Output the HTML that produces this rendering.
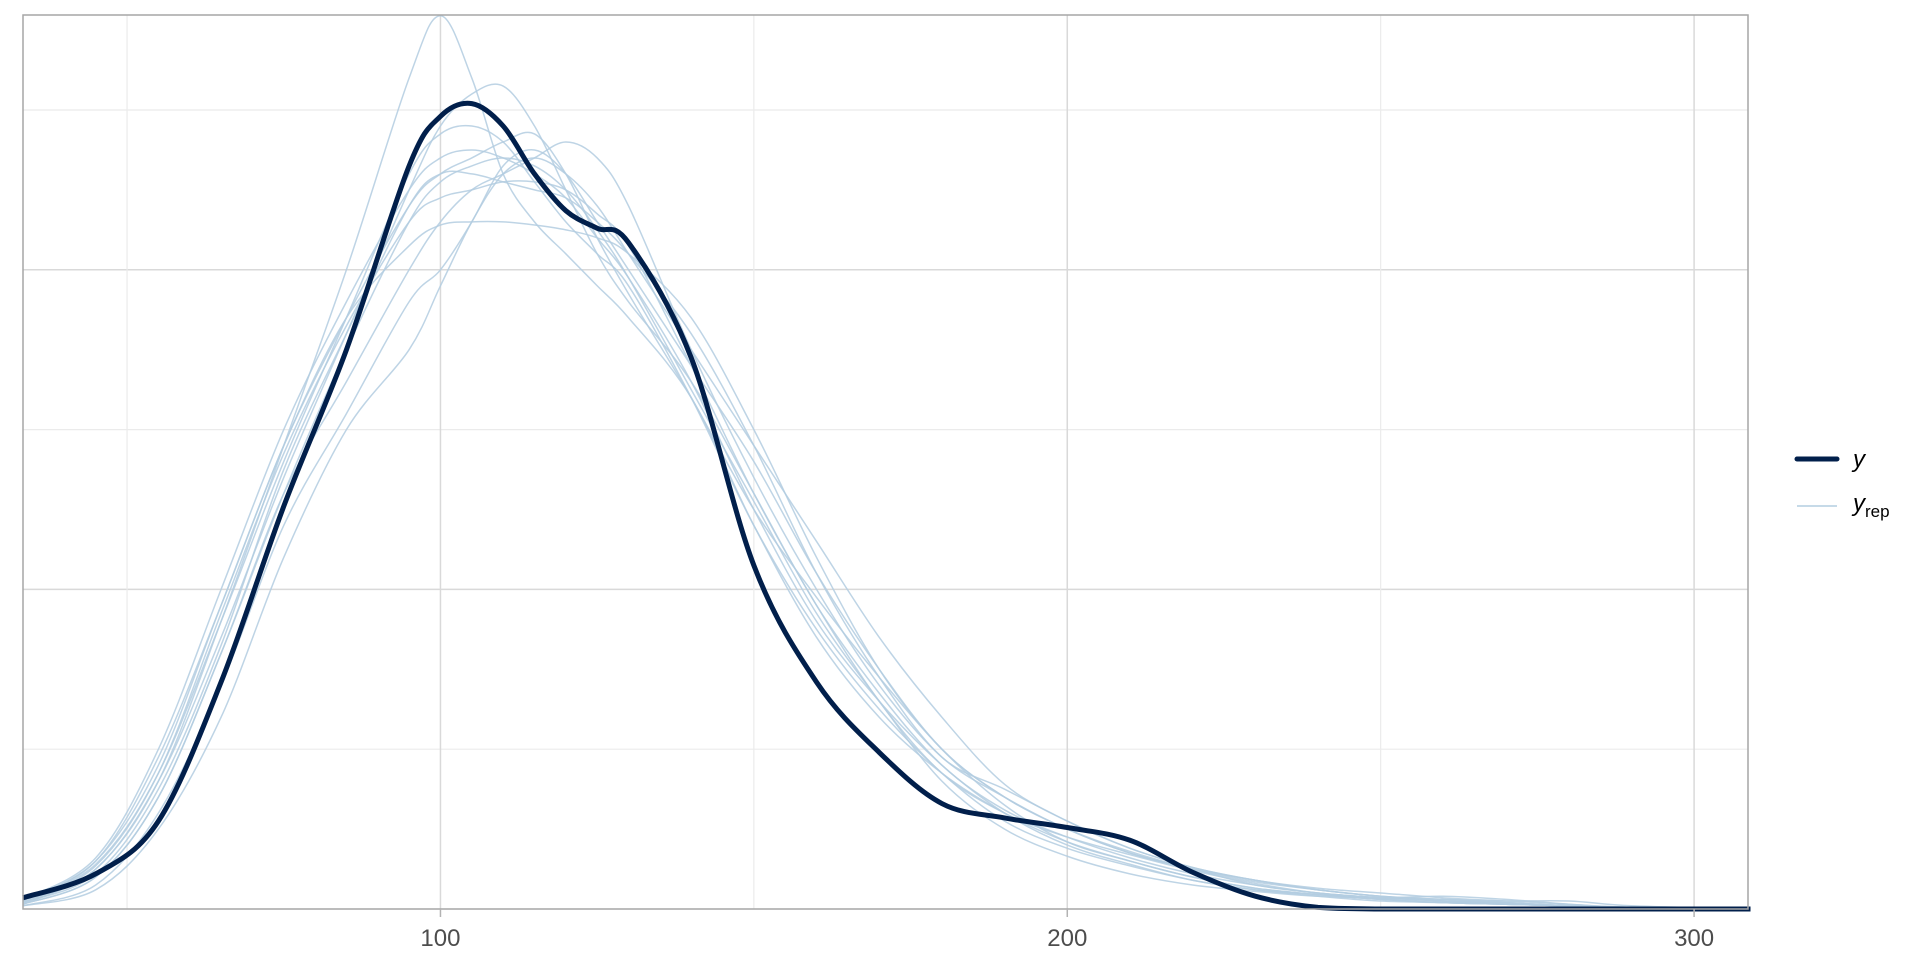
<!DOCTYPE html>
<html><head><meta charset="utf-8"><style>
html,body{margin:0;padding:0;background:#fff;}
svg{display:block;font-family:"Liberation Sans",sans-serif;}
</style></head><body>
<svg id="chart" width="1920" height="960">
<g id="grid"></g>
<g id="reps"></g>
<g id="obs"></g>
<rect x="23" y="15" width="1725" height="894" fill="none" stroke="#a6a6a6" stroke-width="1.5"/>
<g id="xaxis"></g>
<g>
<g>
<line x1="1797" y1="459" x2="1837" y2="459" stroke="#011f4b" stroke-width="5" stroke-linecap="round"/>
<text x="1853" y="467" font-size="24" font-style="italic" fill="#000">y</text></g>
<g>
<line x1="1797" y1="506" x2="1837" y2="506" stroke="#b3cde0" stroke-width="1.5"/>
<text x="1853" y="511" font-size="24" font-style="italic" fill="#000">y<tspan font-size="17" font-style="normal" dy="6">rep</tspan></text></g>
</g>
</svg>
<script>
const xGrid=[33,45,55,65,75,85,95,100,105,110,115,120,125,130,140,150,160,170,180,190,200,210,220,230,240,250,260,270,280,290,309];
const yObs=[.07,.22,.55,1.42,2.52,3.5,4.65,4.96,5.04,4.9,4.6,4.37,4.26,4.17,3.45,2.15,1.42,.98,.66,.57,.51,.43,.23,.08,.01,0,0,0,0,0,0];
const rep1=[.03,.25,.8,1.8,2.9,4.0,5.2,5.59,5.2,4.6,4.3,4.1,3.9,3.7,3.2,2.4,1.7,1.2,.85,.6,.42,.3,.2,.13,.09,.06,.04,.03,.02,.01,0];
const rep2=[.05,.3,.9,1.9,2.9,3.7,4.15,4.28,4.3,4.3,4.28,4.25,4.2,4.1,3.7,3.0,2.2,1.5,1.0,.7,.5,.35,.25,.15,.1,.07,.05,.03,.02,.01,0];
const rep3=[.02,.15,.6,1.4,2.4,3.1,3.8,4.0,4.3,4.65,4.75,4.6,4.3,4.0,3.4,2.8,2.1,1.5,1.0,.7,.5,.35,.25,.18,.12,.08,.05,.04,.02,.01,0];
const rep4=[.04,.25,.8,1.7,2.7,3.6,4.5,4.9,5.1,5.15,4.9,4.5,4.1,3.8,3.3,2.6,1.9,1.35,.9,.62,.45,.32,.22,.15,.1,.07,.05,.03,.02,.01,0];
const rep5=[.03,.2,.7,1.6,2.6,3.3,4.0,4.3,4.5,4.6,4.7,4.8,4.7,4.4,3.5,2.7,2.0,1.4,.95,.7,.5,.36,.25,.17,.12,.08,.06,.04,.02,.01,0];
const rep6=[.06,.32,1.0,2.0,3.0,3.8,4.5,4.7,4.75,4.7,4.6,4.45,4.2,3.95,3.3,2.5,1.8,1.3,.9,.6,.4,.28,.18,.12,.08,.05,.04,.03,.02,.01,0];
const rep7=[.02,.12,.5,1.2,2.2,3.0,3.5,3.9,4.3,4.6,4.7,4.6,4.4,4.1,3.5,2.9,2.3,1.7,1.2,.78,.55,.38,.26,.18,.12,.08,.06,.05,.05,.02,0];
const rep8=[.05,.28,.85,1.8,2.8,3.7,4.6,4.85,4.9,4.8,4.55,4.3,4.1,3.9,3.2,2.4,1.75,1.25,.85,.55,.38,.27,.18,.12,.09,.06,.04,.03,.02,.01,0];
const rep9=[.04,.22,.75,1.65,2.75,3.6,4.4,4.6,4.6,4.55,4.5,4.45,4.3,4.1,3.6,2.9,2.1,1.45,.95,.75,.55,.38,.26,.18,.13,.1,.07,.05,.03,.01,0];
const rep10=[.03,.2,.7,1.6,2.6,3.5,4.3,4.55,4.65,4.7,4.65,4.5,4.25,3.95,3.25,2.55,1.85,1.3,.8,.5,.33,.22,.15,.11,.08,.07,.08,.06,.03,.01,0];
const rep11=[.05,.3,.95,1.9,2.9,3.7,4.4,4.6,4.7,4.8,4.85,4.6,4.2,3.85,3.2,2.5,1.95,1.45,1.0,.65,.42,.3,.2,.13,.09,.06,.04,.03,.02,.01,0];
const rep12=[.04,.27,.85,1.85,2.85,3.65,4.3,4.45,4.5,4.55,4.55,4.5,4.35,4.15,3.4,2.6,1.9,1.3,.85,.6,.45,.34,.24,.16,.1,.07,.05,.04,.02,.01,0];
const reps=[rep1,rep2,rep3,rep4,rep5,rep6,rep7,rep8,rep9,rep10,rep11,rep12];
const xTicks=[100,200,300];
const xTickLabels=["100","200","300"];
const xMinor=[50,150,250];
const yMajor=[2,4];
const yMinor=[1,3,5];

const NS="http://www.w3.org/2000/svg";
const L=23,R=1748,T=15,B=909;
const xmin=33.4,xmax=308.6;
const sx=v=>L+(v-xmin)/(xmax-xmin)*(R-L);
const sy=v=>B-v*159.8;
function mk(tag,attrs,parent){const e=document.createElementNS(NS,tag);for(const k in attrs)e.setAttribute(k,attrs[k]);parent.appendChild(e);return e;}
function pathFor(ys){
  const p=xGrid.map((x,i)=>[sx(Math.max(x,xmin)),sy(ys[i])]);
  let d="M"+p[0][0]+","+p[0][1];
  for(let i=0;i<p.length-1;i++){
    const p0=p[Math.max(0,i-1)],p1=p[i],p2=p[i+1],p3=p[Math.min(p.length-1,i+2)];
    let c1y=p1[1]+(p2[1]-p0[1])/6,c2y=p2[1]-(p3[1]-p1[1])/6;
    c1y=Math.min(c1y,B);c2y=Math.min(c2y,B);
    d+=" C"+(p1[0]+(p2[0]-p0[0])/6)+","+c1y+" "+(p2[0]-(p3[0]-p1[0])/6)+","+c2y+" "+p2[0]+","+p2[1];
  }
  return d;
}
const grid=document.getElementById('grid');
yMinor.forEach(v=>{const e=mk('line',{x1:L,x2:R,y1:sy(v),y2:sy(v),stroke:'#ebebeb','stroke-width':1.2},grid);

});
yMajor.forEach(v=>{const e=mk('line',{x1:L,x2:R,y1:sy(v),y2:sy(v),stroke:'#d9d9d9','stroke-width':1.5},grid);

});
xMinor.forEach(v=>{const e=mk('line',{x1:sx(v),x2:sx(v),y1:T,y2:B,stroke:'#ebebeb','stroke-width':1.2},grid);

});
xTicks.forEach(v=>{const e=mk('line',{x1:sx(v),x2:sx(v),y1:T,y2:B,stroke:'#d9d9d9','stroke-width':1.5},grid);

});
const rg=document.getElementById('reps');
reps.forEach(r=>{const e=mk('path',{d:pathFor(r),fill:'none',stroke:'#b3cde0','stroke-width':1.5,'stroke-opacity':0.85},rg);

});
const og=document.getElementById('obs');
const ol=mk('path',{d:pathFor(yObs),fill:'none',stroke:'#011f4b','stroke-width':5,'stroke-linejoin':'round'},og);


const xa=document.getElementById('xaxis');
xTicks.forEach((v,i)=>{
  const t=mk('line',{x1:sx(v),x2:sx(v),y1:B,y2:B+8,stroke:'#b3b3b3','stroke-width':1.5},xa);
  
  
  const tx=mk('text',{x:sx(v),y:B+37,'text-anchor':'middle','font-size':24,fill:'#4d4d4d'},xa);
  tx.textContent=xTickLabels[i];
  
  
});
</script>
</body></html>
